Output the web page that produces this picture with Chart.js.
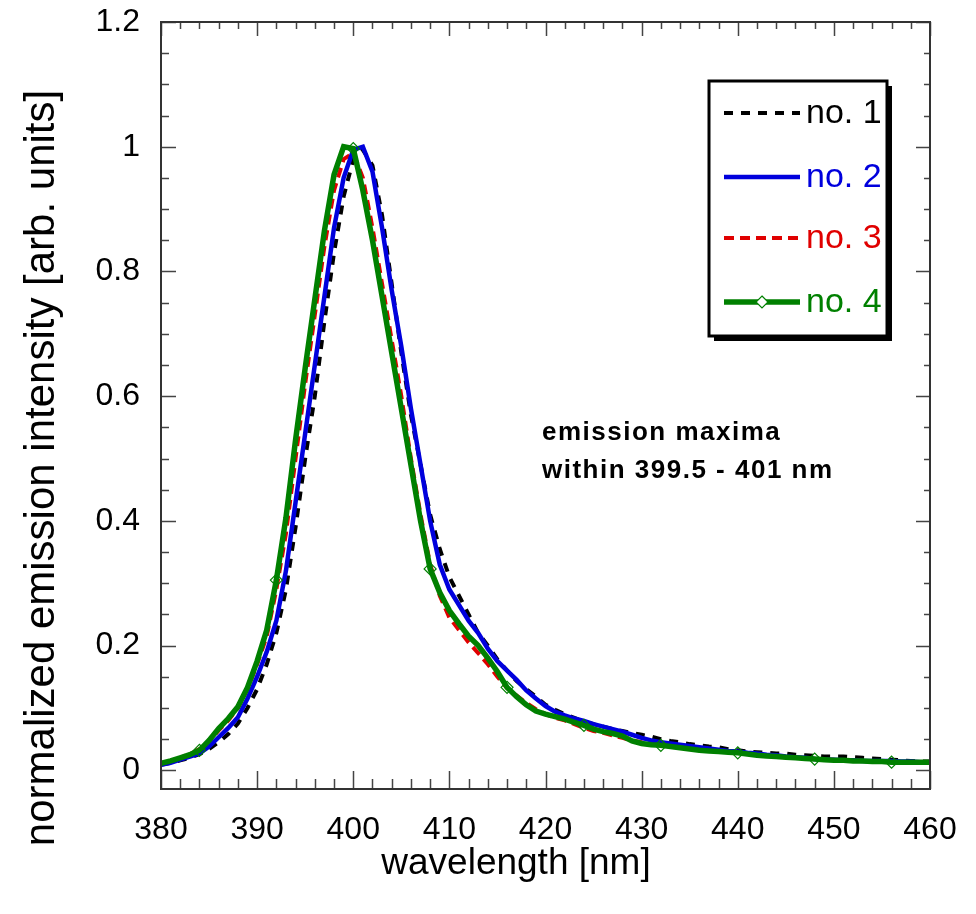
<!DOCTYPE html>
<html>
<head>
<meta charset="utf-8">
<title>normalized emission</title>
<script src="https://cdn.jsdelivr.net/npm/chart.js@4.4.1/dist/chart.umd.min.js"></script>
<style>
    html, body { margin: 0; padding: 0; background: #fff; }
</style>
</head>
<body>
<canvas id="emissionChart" width="976" height="914"></canvas>
<script>

// ======================================================
// Données
// ======================================================

const wavelength = [
    380, 381, 382, 383, 384, 385, 386, 387, 388, 389,
    390, 391, 392, 393, 394, 395, 396, 397, 398, 399,
    400, 401, 402, 403, 404, 405, 406, 407, 408, 409,
    410, 411, 412, 413, 414, 415, 416, 417, 418, 419,
    420, 421, 422, 423, 424, 425, 426, 427, 428, 429,
    430, 431, 432, 433, 434, 435, 436, 437, 438, 439,
    440, 441, 442, 443, 444, 445, 446, 447, 448, 449,
    450, 451, 452, 453, 454, 455, 456, 457, 458, 459,
    460
];

const sample1 = [
    0.009, 0.012, 0.016, 0.020, 0.026, 0.034, 0.045, 0.058, 0.075, 0.100,
    0.130, 0.170, 0.220, 0.290, 0.390, 0.500, 0.600, 0.720, 0.830, 0.920,
    0.980, 0.995, 0.970, 0.890, 0.780, 0.670, 0.570, 0.490, 0.410, 0.355,
    0.310, 0.280, 0.250, 0.220, 0.200, 0.178, 0.160, 0.143, 0.130, 0.118,
    0.105, 0.097, 0.090, 0.084, 0.078, 0.074, 0.070, 0.066, 0.063, 0.060,
    0.057, 0.054, 0.050, 0.047, 0.045, 0.042, 0.040, 0.038, 0.037, 0.034,
    0.032, 0.030, 0.029, 0.028, 0.027, 0.027, 0.025, 0.024, 0.023, 0.022,
    0.022, 0.022, 0.021, 0.020, 0.019, 0.018, 0.017, 0.016, 0.015, 0.014,
    0.014
];

const sample2 = [
    0.009, 0.012, 0.017, 0.022, 0.027, 0.038, 0.053, 0.068, 0.085, 0.115,
    0.150, 0.190, 0.240, 0.320, 0.430, 0.540, 0.650, 0.760, 0.870, 0.950,
    0.995, 1.000, 0.960, 0.870, 0.770, 0.680, 0.580, 0.490, 0.400, 0.330,
    0.290, 0.265, 0.240, 0.220, 0.195, 0.175, 0.160, 0.145, 0.128, 0.115,
    0.103, 0.094, 0.088, 0.083, 0.079, 0.074, 0.070, 0.066, 0.062, 0.057,
    0.052, 0.048, 0.045, 0.043, 0.041, 0.039, 0.037, 0.035, 0.033, 0.031,
    0.030, 0.028, 0.027, 0.025, 0.024, 0.022, 0.021, 0.020, 0.018, 0.017,
    0.017, 0.016, 0.016, 0.015, 0.015, 0.015, 0.015, 0.014, 0.014, 0.013,
    0.013
];

const sample3 = [
    0.010, 0.014, 0.020, 0.026, 0.034, 0.046, 0.064, 0.080, 0.100, 0.130,
    0.170, 0.215, 0.290, 0.380, 0.500, 0.620, 0.730, 0.840, 0.930, 0.980,
    0.990, 0.950, 0.870, 0.780, 0.690, 0.600, 0.500, 0.410, 0.330, 0.280,
    0.245, 0.225, 0.205, 0.188, 0.170, 0.150, 0.132, 0.120, 0.108, 0.098,
    0.090, 0.084, 0.080, 0.074, 0.068, 0.063, 0.060, 0.056, 0.052, 0.048,
    0.045, 0.043, 0.041, 0.039, 0.037, 0.035, 0.033, 0.031, 0.030, 0.029,
    0.028, 0.026, 0.025, 0.024, 0.022, 0.021, 0.020, 0.019, 0.018, 0.017,
    0.017, 0.016, 0.016, 0.015, 0.015, 0.014, 0.014, 0.013, 0.013, 0.013,
    0.013
];

const sample4 = [
    0.011, 0.015, 0.020, 0.025, 0.032, 0.048, 0.067, 0.083, 0.102, 0.133,
    0.175, 0.225, 0.305, 0.405, 0.530, 0.645, 0.755, 0.865, 0.955, 1.000,
    0.997, 0.930, 0.850, 0.760, 0.670, 0.580, 0.490, 0.400, 0.323, 0.285,
    0.256, 0.235, 0.215, 0.200, 0.180, 0.158, 0.133, 0.118, 0.105, 0.095,
    0.090, 0.086, 0.082, 0.077, 0.072, 0.066, 0.062, 0.059, 0.055, 0.047,
    0.043, 0.041, 0.040, 0.038, 0.036, 0.034, 0.032, 0.031, 0.030, 0.029,
    0.028, 0.026, 0.024, 0.023, 0.022, 0.021, 0.020, 0.019, 0.018, 0.017,
    0.016, 0.016, 0.015, 0.015, 0.014, 0.014, 0.013, 0.013, 0.013, 0.013,
    0.013
];

// longueurs d'onde portant un marqueur (série no. 4)
const markerWavelengths = [384, 392, 400, 408, 416, 424, 432, 440, 448, 456];

const seriesNames = ["no. 1", "no. 2", "no. 3", "no. 4"];

const xTicks = [380, 390, 400, 410, 420, 430, 440, 450, 460];
const xTickLabels = ["380", "390", "400", "410", "420", "430", "440", "450", "460"];

const yTicks = [0, 0.2, 0.4, 0.6, 0.8, 1, 1.2];
const yTickLabels = ["0", "0.2", "0.4", "0.6", "0.8", "1", "1.2"];

const xMinorStep = 2;
const yMinorStep = 0.05;

const xTitle = "wavelength [nm]";
const yTitle = "normalized emission intensity [arb. units]";
const noteLines = ["emission maxima", "within 399.5 - 401 nm"];

// ======================================================
// Styles
// ======================================================

const mainFont = '"Liberation Sans", Arial, sans-serif';

const styles = [
    { color: "#000000", width: 4, dash: [9, 8] },
    { color: "#0000dd", width: 4.5, dash: [] },
    { color: "#e00000", width: 4, dash: [10, 6] },
    { color: "#008000", width: 5.5, dash: [] }
];

function toPoints(values) {
    return values.map((v, i) => ({ x: wavelength[i], y: v }));
}

// ======================================================
// Cadre, graduations, titres, légende et texte
// ======================================================

const decorPlugin = {

    id: "decor",

    afterDraw(chart) {

        const ctx = chart.ctx;
        const area = chart.chartArea;
        const xs = chart.scales.x;
        const ys = chart.scales.y;

        ctx.save();

        //-----------------------------------------------------
        // Graduations vers l'intérieur
        //-----------------------------------------------------

        ctx.strokeStyle = "#444";
        ctx.lineWidth = 1.5;
        ctx.beginPath();

        for (let v = xs.min; v <= xs.max + 1e-6; v += xMinorStep) {
            const px = Math.round(xs.getPixelForValue(v)) + 0.5;
            const major = xTicks.includes(Math.round(v));
            const lb = major ? 18 : 10;
            const lt = major ? 14 : 7;
            ctx.moveTo(px, area.bottom);
            ctx.lineTo(px, area.bottom - lb);
            ctx.moveTo(px, area.top);
            ctx.lineTo(px, area.top + lt);
        }

        for (let k = 0; k * yMinorStep <= 1.2 + 1e-6; k++) {
            const v = k * yMinorStep;
            const py = Math.round(ys.getPixelForValue(v)) + 0.5;
            const major = k % 4 === 0;
            const ll = major ? 15 : 8;
            const lr = major ? 14 : 6;
            ctx.moveTo(area.left, py);
            ctx.lineTo(area.left + ll, py);
            ctx.moveTo(area.right, py);
            ctx.lineTo(area.right - lr, py);
        }

        ctx.stroke();

        //-----------------------------------------------------
        // Cadre
        //-----------------------------------------------------

        ctx.strokeStyle = "#333";
        ctx.lineWidth = 2;
        ctx.strokeRect(area.left, area.top, area.right - area.left, area.bottom - area.top);

        //-----------------------------------------------------
        // Titres des axes
        //-----------------------------------------------------

        ctx.fillStyle = "#000";
        ctx.textAlign = "center";
        ctx.textBaseline = "middle";

        ctx.font = "37px " + mainFont;
        ctx.fillText(xTitle, 516, 864);

        ctx.save();
        ctx.translate(42, 468);
        ctx.rotate(-Math.PI / 2);
        ctx.font = "42px " + mainFont;
        ctx.fillText(yTitle, 0, 0);
        ctx.restore();

        //-----------------------------------------------------
        // Légende
        //-----------------------------------------------------

        const box = { x: 709, y: 81, w: 178, h: 255 };

        ctx.fillStyle = "#000";
        ctx.fillRect(box.x + 5, box.y + 5, box.w, box.h);
        ctx.fillStyle = "#fff";
        ctx.fillRect(box.x, box.y, box.w, box.h);
        ctx.lineWidth = 3;
        ctx.strokeStyle = "#000";
        ctx.strokeRect(box.x, box.y, box.w, box.h);

        const rows = [113, 177, 238, 302];

        seriesNames.forEach((name, i) => {

            const s = styles[i];
            const y = rows[i];

            ctx.strokeStyle = s.color;
            ctx.lineWidth = s.width;
            ctx.setLineDash(s.dash);
            ctx.beginPath();
            ctx.moveTo(724, y);
            ctx.lineTo(800, y);
            ctx.stroke();
            ctx.setLineDash([]);

            if (i === 3) {
                ctx.lineWidth = 1.2;
                ctx.fillStyle = "#fff";
                ctx.beginPath();
                ctx.moveTo(762, y - 6);
                ctx.lineTo(768, y);
                ctx.lineTo(762, y + 6);
                ctx.lineTo(756, y);
                ctx.closePath();
                ctx.fill();
                ctx.stroke();
            }

            ctx.fillStyle = s.color;
            ctx.font = "34px " + mainFont;
            ctx.textAlign = "left";
            ctx.textBaseline = "middle";
            ctx.fillText(name, 806, y + 1);

        });

        //-----------------------------------------------------
        // Annotation
        //-----------------------------------------------------

        ctx.fillStyle = "#000";
        ctx.font = "bold 26px " + mainFont;
        ctx.letterSpacing = "1.5px";
        ctx.textAlign = "left";
        ctx.textBaseline = "middle";
        ctx.fillText(noteLines[0], 542, 433);
        ctx.fillText(noteLines[1], 542, 471);
        ctx.letterSpacing = "0px";

        ctx.restore();

    }

};

// ======================================================
// Graphique
// ======================================================

const datasets = [sample1, sample2, sample3, sample4].map((values, i) => {

    const s = styles[i];

    return {
        label: seriesNames[i],
        data: toPoints(values),
        borderColor: s.color,
        backgroundColor: "#fff",
        borderWidth: s.width,
        borderDash: s.dash,
        tension: 0,
        fill: false,
        order: [4, 2, 3, 1][i],
        pointStyle: "rectRot",
        pointRadius: i === 3
            ? (c => markerWavelengths.includes(wavelength[c.dataIndex]) ? 6 : 0)
            : 0,
        pointBorderWidth: 1.2,
        pointBorderColor: s.color,
        pointBackgroundColor: "rgba(255,255,255,0)"
    };

});

new Chart(document.getElementById("emissionChart"), {

    type: "line",

    data: { datasets: datasets },

    options: {

        responsive: false,
        animation: false,
        devicePixelRatio: 1,

        layout: {
            padding: { top: 22, right: 46, bottom: 0, left: 0 }
        },

        plugins: {
            legend: { display: false },
            tooltip: { enabled: false }
        },

        scales: {

            x: {
                type: "linear",
                min: 380,
                max: 460,
                grid: { display: false, drawTicks: false },
                border: { display: false },
                afterBuildTicks: scale => {
                    scale.ticks = xTicks.map(v => ({ value: v }));
                },
                afterFit: scale => {
                    scale.height = 125;
                    scale.paddingLeft = 0;
                    scale.paddingRight = 0;
                },
                ticks: {
                    padding: 22,
                    color: "#000",
                    maxRotation: 0,
                    font: { family: mainFont, size: 32 },
                    callback: v => xTickLabels[xTicks.indexOf(v)]
                }
            },

            y: {
                type: "linear",
                min: -0.03,
                max: 1.2,
                grid: { display: false, drawTicks: false },
                border: { display: false },
                afterBuildTicks: scale => {
                    scale.ticks = yTicks.map(v => ({ value: v }));
                },
                afterFit: scale => {
                    scale.width = 161;
                    scale.paddingTop = 0;
                    scale.paddingBottom = 0;
                },
                ticks: {
                    padding: 21,
                    color: "#000",
                    font: { family: mainFont, size: 32 },
                    callback: (v, i) => yTickLabels[i]
                }
            }

        }

    },

    plugins: [decorPlugin]

});

</script>
</body>
</html>
